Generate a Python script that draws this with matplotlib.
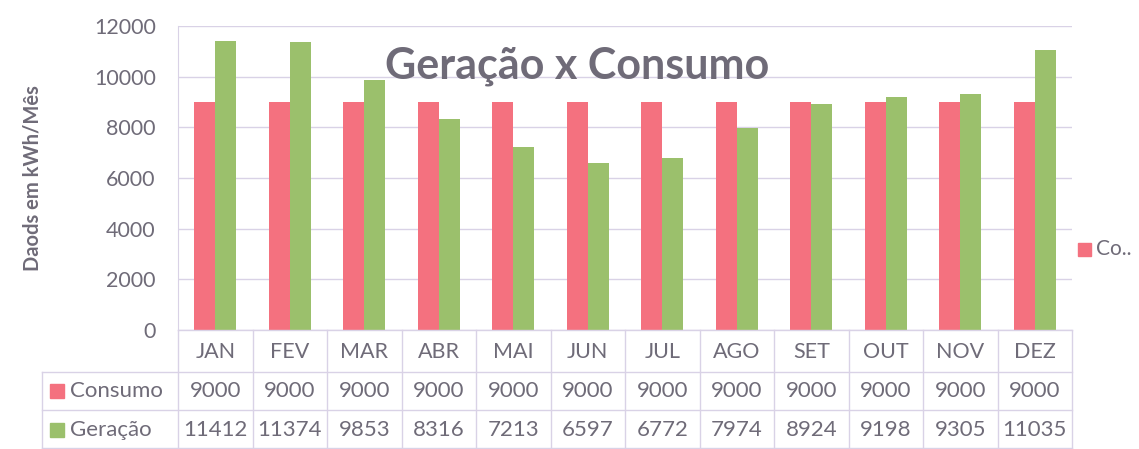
import matplotlib
matplotlib.use("Agg")
import matplotlib.pyplot as plt
from matplotlib.patches import Rectangle
from matplotlib.lines import Line2D
import numpy as np

months = ["JAN", "FEV", "MAR", "ABR", "MAI", "JUN", "JUL", "AGO", "SET", "OUT", "NOV", "DEZ"]
consumo = [9000, 9000, 9000, 9000, 9000, 9000, 9000, 9000, 9000, 9000, 9000, 9000]
geracao = [11412, 11374, 9853, 8316, 7213, 6597, 6772, 7974, 8924, 9198, 9305, 11035]
yticks = [0, 2000, 4000, 6000, 8000, 10000, 12000]

PINK = "#f4717f"
GREEN = "#9bc06c"
TEXT = "#6f6b78"
GRID = "#d9d2e6"

plt.rcParams["font.family"] = ["Lato", "DejaVu Sans"]

W, H = 1139, 449
fig = plt.figure(figsize=(W / 100, H / 100), dpi=100)
fig.patch.set_facecolor("white")

# plot area in pixel terms
x0, x1, ytop, ybot = 178, 1072, 26, 330
ax = fig.add_axes([x0 / W, 1 - ybot / H, (x1 - x0) / W, (ybot - ytop) / H])

x = np.arange(len(months))
bw = 0.28
ax.bar(x - bw / 2, consumo, bw, color=PINK, zorder=3, label="Consumo")
ax.bar(x + bw / 2, geracao, bw, color=GREEN, zorder=3, label="Geração")

ax.set_xlim(-0.5, len(months) - 0.5)
ax.set_ylim(0, 12000)
ax.set_yticks(yticks)
ax.set_yticklabels([str(v) for v in yticks], fontsize=15.5, color=TEXT)
ax.set_xticks([])
ax.tick_params(axis="y", length=0, pad=16)
ax.yaxis.grid(True, color=GRID, lw=1, zorder=0)
for s in ["top", "right", "bottom"]:
    ax.spines[s].set_visible(False)
ax.spines["left"].set_color(GRID)
ax.set_ylabel("Daods em kWh/Mês", fontsize=14.5, fontweight="bold", color=TEXT)
ax.yaxis.set_label_coords(-0.152, 0.5)

# title sits inside the plot, left of centre
ax.text((577 - x0) / (x1 - x0), 0.87, "Geração x Consumo", transform=ax.transAxes,
        ha="center", va="center", fontsize=31, fontweight="bold", color=TEXT)

# truncated legend on the right
fig.patches.append(Rectangle((1078 / W, 1 - 256 / H), 13 / W, 13 / H, transform=fig.transFigure,
                             color=PINK))
fig.text(1096 / W, 1 - 249 / H, "Co..", fontsize=15, color=TEXT, va="center")

# data table below the plot
def fy(py):
    return 1 - py / H

left_edge = 42
trans = fig.transFigure

def hline(py, xa, xb):
    fig.add_artist(Line2D([xa / W, xb / W], [fy(py), fy(py)], transform=trans, color=GRID, lw=1))

def vline(px, ya, yb):
    fig.add_artist(Line2D([px / W, px / W], [fy(ya), fy(yb)], transform=trans, color=GRID, lw=1))

cell = (x1 - x0) / len(months)
hline(330, x0, x1)
hline(372, left_edge, x1)
hline(410, left_edge, x1)
hline(448, left_edge, x1)
vline(left_edge, 372, 449)
for i in range(len(months) + 1):
    vline(x0 + i * cell, 330, 449)

for i, m in enumerate(months):
    cx = (x0 + (i + 0.5) * cell) / W
    fig.text(cx, fy(352), m, ha="center", va="center", fontsize=15.5, color=TEXT)
    fig.text(cx, fy(391), str(consumo[i]), ha="center", va="center", fontsize=16, color=TEXT)
    fig.text(cx, fy(430), str(geracao[i]), ha="center", va="center", fontsize=16, color=TEXT)

for py, name, col in [(391, "Consumo", PINK), (430, "Geração", GREEN)]:
    fig.patches.append(Rectangle((50 / W, fy(py + 7)), 14 / W, 14 / H, transform=trans, color=col))
    fig.text(70 / W, fy(py), name, ha="left", va="center", fontsize=16, color=TEXT)

fig.savefig("out.png", dpi=100, facecolor="white")
